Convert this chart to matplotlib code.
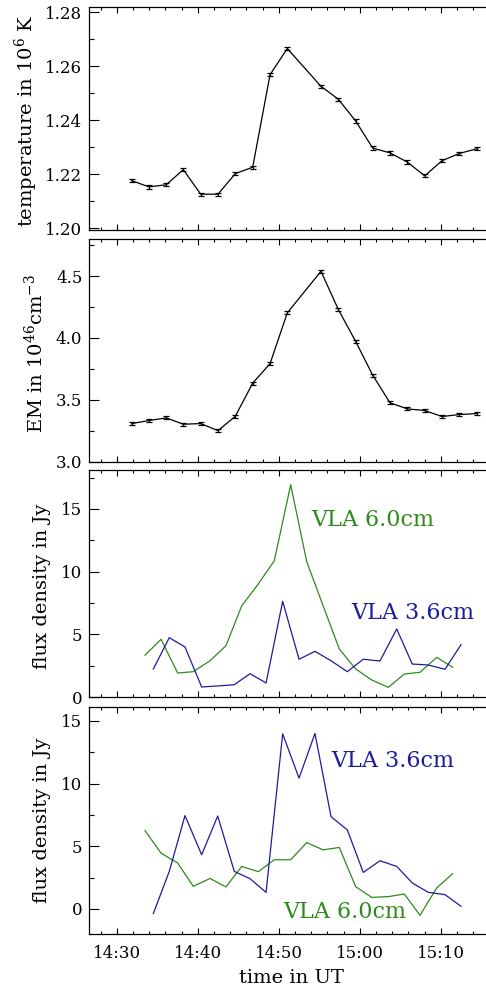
import matplotlib
matplotlib.use("Agg")
import matplotlib.pyplot as plt
from matplotlib.ticker import MultipleLocator, FuncFormatter

# ---- data (time in minutes after 14:30 UT) ----
t_xray = [1.85, 3.99, 6.12, 8.22, 10.37, 12.51, 14.64, 16.79, 18.93, 21.06,
          25.22, 27.36, 29.51, 31.60, 33.74, 35.88, 38.02, 40.16, 42.30, 44.44]
temperature = [1.2176, 1.2153, 1.2161, 1.2217, 1.2126, 1.2126, 1.2202, 1.2226, 1.2569, 1.2666,
               1.2526, 1.2478, 1.2397, 1.2297, 1.2279, 1.2245, 1.2194, 1.2250, 1.2277, 1.2294]
temperature_err = [0.0006] * 20
em = [3.308, 3.333, 3.354, 3.303, 3.308, 3.251, 3.367, 3.635, 3.792, 4.203,
      4.539, 4.230, 3.971, 3.700, 3.476, 3.427, 3.414, 3.365, 3.381, 3.389]
em_err = [0.012] * 20

t_6cm = [3.49, 5.47, 7.53, 9.46, 11.52, 13.49, 15.43, 17.48, 19.46, 21.48,
         23.46, 25.47, 27.48, 29.51, 31.48, 33.53, 35.51, 37.44, 39.51, 41.48]
t_3cm = [4.52, 6.49, 8.43, 10.49, 12.47, 14.52, 16.46, 18.44, 20.49, 22.51,
         24.48, 26.46, 28.47, 30.44, 32.50, 34.57, 36.49, 38.47, 40.53, 42.51]

flux6_a = [3.33, 4.60, 1.91, 2.02, 2.89, 4.09, 7.26, 9.01, 10.87, 16.93,
           10.79, 7.30, 3.83, 2.23, 1.36, 0.77, 1.83, 1.97, 3.16, 2.37]
flux3_a = [2.23, 4.73, 3.99, 0.80, 0.88, 0.98, 1.86, 1.12, 7.63, 3.01,
           3.64, 2.89, 2.02, 3.01, 2.87, 5.42, 2.63, 2.55, 2.21, 4.17]
flux6_b = [6.25, 4.45, 3.66, 1.80, 2.43, 1.75, 3.39, 2.97, 3.92, 3.92,
           5.29, 4.71, 4.90, 1.77, 0.92, 0.98, 1.19, -0.51, 1.67, 2.81]
flux3_b = [-0.37, 2.99, 7.44, 4.32, 7.41, 2.99, 2.41, 1.32, 13.96, 10.43,
           13.99, 7.36, 6.30, 2.91, 3.84, 3.39, 2.07, 1.32, 1.14, 0.21]

xtick_labels = ["14:30", "14:40", "14:50", "15:00", "15:10"]

GREEN = "#2f8a1c"
BLUE = "#1c1c9c"
FONT = "DejaVu Serif"
plt.rcParams["font.family"] = [FONT]
plt.rcParams["mathtext.fontset"] = "dejavuserif"

W, H = 486, 989
fig = plt.figure(figsize=(W / 100, H / 100), dpi=100)

x_left_px, x_right_px = 89.3, 487.0
panels_px = [(7, 229.5), (239, 461.7), (470, 697), (707, 934)]

def add_ax(top, bot):
    return fig.add_axes([x_left_px / W, 1 - bot / H, (x_right_px - x_left_px) / W, (bot - top) / H])

axes = [add_ax(t, b) for t, b in panels_px]

xmin = (x_left_px - 116.7) / 8.1
xmax = (x_right_px - 116.7) / 8.1

def fmt_time(v, pos):
    m = int(round(v))
    if m % 10 == 0 and 0 <= m // 10 < len(xtick_labels):
        return xtick_labels[m // 10]
    return ""

for ax in axes:
    ax.set_xlim(xmin, xmax)
    ax.xaxis.set_major_locator(MultipleLocator(10))
    ax.xaxis.set_minor_locator(MultipleLocator(2))
    ax.tick_params(axis="x", which="major", direction="in", length=4.3, width=0.8, top=True, bottom=True)
    ax.tick_params(axis="x", which="minor", direction="in", length=2.4, width=0.8, top=True, bottom=True)
    ax.tick_params(axis="y", which="major", direction="in", length=7.2, width=0.8, right=False, labelsize=12, pad=5)
    ax.tick_params(axis="y", which="minor", direction="in", length=3.6, width=0.8, right=False)
    for s in ax.spines.values():
        s.set_linewidth(0.9)
    ax.set_facecolor("white")
    if ax is not axes[-1]:
        ax.tick_params(axis="x", labelbottom=False)

# Panel 1: temperature
ax = axes[0]
ax.errorbar(t_xray, temperature, yerr=temperature_err, color="black", lw=0.9,
            elinewidth=0.9, capsize=2.2, capthick=0.9)
ax.set_ylim(1.1995, 1.282)
ax.yaxis.set_major_locator(MultipleLocator(0.02))
ax.yaxis.set_minor_locator(MultipleLocator(0.01))
ax.yaxis.set_major_formatter(FuncFormatter(lambda v, p: f"{v:.2f}"))

# Panel 2: EM
ax = axes[1]
ax.errorbar(t_xray, em, yerr=em_err, color="black", lw=0.9,
            elinewidth=0.9, capsize=2.2, capthick=0.9)
ax.set_ylim(3.0, 4.8)
ax.yaxis.set_major_locator(MultipleLocator(0.5))
ax.yaxis.set_minor_locator(MultipleLocator(0.25))
ax.yaxis.set_major_formatter(FuncFormatter(lambda v, p: f"{v:.1f}"))

# Panel 3
ax = axes[2]
ax.plot(t_6cm, flux6_a, color=GREEN, lw=0.9)
ax.plot(t_3cm, flux3_a, color=BLUE, lw=0.9)
ax.set_ylim(0, 18.1)
ax.yaxis.set_major_locator(MultipleLocator(5))
ax.yaxis.set_minor_locator(MultipleLocator(2.5))
ax.yaxis.set_major_formatter(FuncFormatter(lambda v, p: f"{v:.0f}"))
ax.text((311.7 - x_left_px) / (x_right_px - x_left_px), (697 - 520) / 227, "VLA 6.0cm",
        transform=ax.transAxes, color=GREEN, fontsize=16, ha="left", va="center")
ax.text((351.7 - x_left_px) / (x_right_px - x_left_px), (697 - 612.7) / 227, "VLA 3.6cm",
        transform=ax.transAxes, color=BLUE, fontsize=16, ha="left", va="center")

# Panel 4
ax = axes[3]
ax.plot(t_6cm, flux6_b, color=GREEN, lw=0.9)
ax.plot(t_3cm, flux3_b, color=BLUE, lw=0.9)
ax.set_ylim(-2, 16.1)
ax.yaxis.set_major_locator(MultipleLocator(5))
ax.yaxis.set_minor_locator(MultipleLocator(2.5))
ax.yaxis.set_major_formatter(FuncFormatter(lambda v, p: f"{v:.0f}"))
ax.text((331.7 - x_left_px) / (x_right_px - x_left_px), (934 - 760.7) / 227, "VLA 3.6cm",
        transform=ax.transAxes, color=BLUE, fontsize=16, ha="left", va="center")
ax.text((283.3 - x_left_px) / (x_right_px - x_left_px), (934 - 912.3) / 227, "VLA 6.0cm",
        transform=ax.transAxes, color=GREEN, fontsize=16, ha="left", va="center")
ax.xaxis.set_major_formatter(FuncFormatter(fmt_time))
ax.tick_params(axis="x", labelsize=12, pad=8)

# y labels
ylabels = [("temperature in 10$^6$ K", 26.0, 120.8),
           ("EM in 10$^{46}$cm$^{-3}$", 35.5, 353.3),
           ("flux density in Jy", 41.7, 586.7),
           ("flux density in Jy", 41.7, 820.8)]
for txt, xp, yp in ylabels:
    fig.text(xp / W, 1 - yp / H, txt, rotation=90, ha="center", va="center", fontsize=14)

fig.text(291.7 / W, 1 - 978 / H, "time in UT", ha="center", va="center", fontsize=14)

fig.savefig("out.png", dpi=100, facecolor="white")
